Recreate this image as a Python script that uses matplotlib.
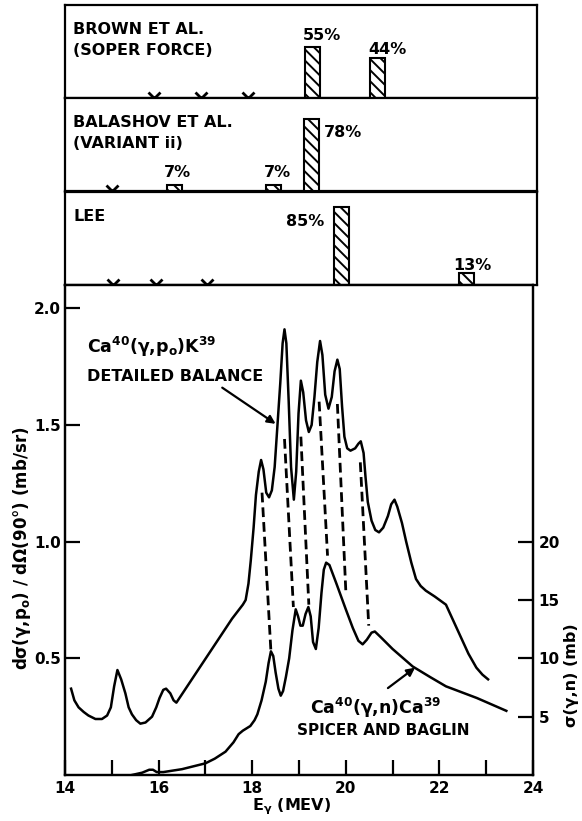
import matplotlib
matplotlib.use('Agg')
import matplotlib.pyplot as plt

plt.rcParams['font.family'] = ['DejaVu Sans']
plt.rcParams['font.weight'] = 'bold'
plt.rcParams['mathtext.default'] = 'bf'
plt.rcParams['hatch.linewidth'] = 1.4

# ---- top panels: calculated strengths (percent) and crosses ----
panel_names = [["BROWN ET AL.", "(SOPER FORCE)"],
               ["BALASHOV ET AL.", "(VARIANT ii)"],
               ["LEE"]]
cross_E = [[15.9, 16.9, 17.9],
           [15.0],
           [15.03, 15.94, 17.03]]
bar_E = [[19.29, 20.68],
         [16.34, 18.46, 19.27],
         [19.90, 22.58]]
bar_pct = [[55, 44],
           [7, 7, 78],
           [85, 13]]
pct_label_E = [[19.49, 20.88],
               [16.41, 18.53, 19.94],
               [19.13, 22.70]]
pct_label_y = [[68, 53],
               [20.6, 20.6, 64],
               [69.5, 21.7]]

# ---- Ca40(g,p0)K39 detailed balance (mb/sr) ----
p_E = [14.13, 14.2, 14.29, 14.4, 14.5, 14.65, 14.79, 14.9, 14.98, 15.05, 15.12, 15.2,
       15.29, 15.36, 15.43, 15.52, 15.61, 15.72, 15.86, 15.95, 16.02, 16.1, 16.16, 16.25,
       16.32, 16.38, 17.57, 17.8, 17.86, 17.92, 17.97, 18.03, 18.08, 18.14, 18.19, 18.24,
       18.3, 18.36, 18.42, 18.48, 18.54, 18.6, 18.65, 18.69, 18.73, 18.78, 18.83, 18.89,
       18.94, 18.99, 19.04, 19.09, 19.15, 19.21, 19.27, 19.33, 19.39, 19.45, 19.5, 19.56,
       19.63, 19.7, 19.76, 19.82, 19.87, 19.92, 19.97, 20.03, 20.1, 20.2, 20.27, 20.32,
       20.38, 20.42, 20.47, 20.55, 20.63, 20.71, 20.8, 20.9, 20.97, 21.04, 21.1, 21.2,
       21.29, 21.4, 21.5, 21.6, 21.71, 21.9, 22.14, 22.3, 22.46, 22.62, 22.79, 22.92, 23.04]
p_val = [0.37, 0.32, 0.29, 0.27, 0.255, 0.24, 0.24, 0.255, 0.29, 0.38, 0.45, 0.41,
         0.35, 0.29, 0.26, 0.235, 0.22, 0.225, 0.25, 0.29, 0.33, 0.365, 0.37, 0.35,
         0.32, 0.31, 0.67, 0.73, 0.75, 0.82, 0.92, 1.06, 1.2, 1.3, 1.35, 1.31,
         1.21, 1.19, 1.22, 1.32, 1.50, 1.68, 1.85, 1.91, 1.85, 1.6, 1.32, 1.18,
         1.3, 1.55, 1.69, 1.64, 1.52, 1.47, 1.5, 1.62, 1.77, 1.86, 1.80, 1.63,
         1.57, 1.62, 1.73, 1.78, 1.74, 1.58, 1.45, 1.40, 1.39, 1.40, 1.42, 1.43,
         1.38, 1.28, 1.17, 1.09, 1.05, 1.04, 1.06, 1.11, 1.16, 1.18, 1.15, 1.08,
         1.00, 0.91, 0.84, 0.81, 0.79, 0.765, 0.73, 0.66, 0.59, 0.52, 0.46, 0.43, 0.41]

# ---- Ca40(g,n)Ca39 Spicer and Baglin (mb) ----
n_E = [15.43, 15.65, 15.8, 15.88, 15.96, 16.1, 16.5, 17.0, 17.2, 17.43, 17.6, 17.71,
       17.8, 17.96, 18.05, 18.11, 18.2, 18.29, 18.35, 18.4, 18.45, 18.5, 18.56, 18.61,
       18.66, 18.72, 18.79, 18.86, 18.93, 18.98, 19.03, 19.08, 19.14, 19.2, 19.25, 19.3,
       19.36, 19.42, 19.48, 19.53, 19.58, 19.65, 19.8, 20.0, 20.15, 20.27, 20.36, 20.45,
       20.55, 20.62, 20.75, 21.0, 21.43, 21.8, 22.14, 22.8, 23.43]
n_mb = [0, 0.2, 0.45, 0.45, 0.25, 0.25, 0.5, 1.0, 1.4, 2.0, 2.8, 3.5,
        3.8, 4.2, 4.7, 5.2, 6.4, 8.0, 9.6, 10.6, 10.2, 8.8, 7.4, 6.8,
        7.2, 8.4, 10.0, 12.4, 14.2, 13.6, 12.8, 12.8, 13.8, 14.4, 13.6, 11.4,
        10.8, 12.6, 15.6, 17.6, 18.2, 18.0, 16.4, 14.2, 12.6, 11.5, 11.2, 11.6,
        12.2, 12.3, 11.8, 10.8, 9.3, 8.4, 7.6, 6.6, 5.5]

# dashed correspondence lines (mb/sr units)
dash_E0 = [18.21, 18.69, 19.04, 19.43, 19.82, 20.31]
dash_v0 = [1.21, 1.44, 1.45, 1.60, 1.59, 1.34]
dash_E1 = [18.40, 18.88, 19.21, 19.61, 20.00, 20.49]
dash_v1 = [0.53, 0.72, 0.73, 0.94, 0.79, 0.64]

W, H = 582, 821
fig = plt.figure(figsize=(W / 100, H / 100), dpi=100)

px_per_mev = 468 / 10.0
panel_tops = [5, 98, 192]
panel_h = 93.3
for i, top in enumerate(panel_tops):
    axp = fig.add_axes([65 / W, (H - top - panel_h) / H, 472 / W, panel_h / H])
    axp.set_xlim(14, 14 + 472 / px_per_mev)
    axp.set_ylim(0, 101)
    axp.set_xticks([])
    axp.set_yticks([])
    for s in axp.spines.values():
        s.set_linewidth(1.6)
    axp.bar(bar_E[i], bar_pct[i], width=0.32, facecolor='white', edgecolor='black',
            linewidth=1.5, hatch='\\\\\\', zorder=3)
    axp.plot(cross_E[i], [0] * len(cross_E[i]), 'x', color='black', ms=9, mew=2,
             clip_on=False, zorder=5)
    for e, y, p in zip(pct_label_E[i], pct_label_y[i], bar_pct[i]):
        axp.text(e, y, f"{p}%", ha='center', va='center', fontsize=11.5, fontweight='bold')
    for j, name in enumerate(panel_names[i]):
        axp.text(0.018, 0.74 - 0.225 * j, name, transform=axp.transAxes, ha='left',
                 va='center', fontsize=11.5, fontweight='bold')

ax = fig.add_axes([65 / W, (H - 775) / H, 468 / W, 490 / H])
ax.set_xlim(14, 24)
ax.set_ylim(0, 2.1)
for s in ax.spines.values():
    s.set_linewidth(1.6)

ax.plot(p_E, p_val, color='black', lw=1.8)
for e0, v0, e1, v1 in zip(dash_E0, dash_v0, dash_E1, dash_v1):
    ax.plot([e0, e1], [v0, v1], color='black', lw=2, linestyle=(0, (3.5, 1.8)))

ax2 = ax.twinx()
ax2.set_ylim(0, 42)
ax2.plot(n_E, n_mb, color='black', lw=1.8)
for s in ax2.spines.values():
    s.set_linewidth(1.6)

ax.set_xticks([14, 16, 18, 20, 22, 24])
ax.set_xticks([15, 17, 19, 21, 23], minor=True)
ax.set_yticks([0.5, 1.0, 1.5, 2.0])
ax.set_yticklabels(['0.5', '1.0', '1.5', '2.0'])
ax.tick_params(which='both', direction='in', length=11, width=1.6, labelsize=11, pad=4)
ax.tick_params(axis='y', pad=3)
ax2.set_yticks([5, 10, 15, 20])
ax2.tick_params(direction='in', length=11, width=1.6, labelsize=11, pad=4)
for lab in ax.get_xticklabels() + ax.get_yticklabels() + ax2.get_yticklabels():
    lab.set_fontweight('bold')

ax.text(0.485, -0.065, "E$_\\gamma$ (MEV)", transform=ax.transAxes, ha='center',
        va='center', fontsize=11.5, fontweight='bold')
ax.text(-0.092, 0.463, "d\u03c3(\u03b3,p$_o$) / d\u03a9(90\u00b0) (mb/sr)",
        transform=ax.transAxes, rotation=90, ha='center', va='center', fontsize=12,
        fontweight='bold')
ax.text(1.083, 0.204, "\u03c3(\u03b3,n) (mb)", transform=ax.transAxes, rotation=90,
        ha='center', va='center', fontsize=11.5, fontweight='bold')

ax.text(14.46, 1.81, "Ca$^{40}$(\u03b3,p$_o$)K$^{39}$", ha='left', va='baseline',
        fontsize=12.5, fontweight='bold')
ax.text(14.46, 1.69, "DETAILED BALANCE", ha='left', va='baseline', fontsize=11.5,
        fontweight='bold')
ax.annotate("", xy=(18.5, 1.505), xytext=(17.36, 1.66),
            arrowprops=dict(arrowstyle='-|>', color='black', lw=1.6,
                            mutation_scale=12, shrinkA=0, shrinkB=0))

ax2.text(20.65, 5.2, "Ca$^{40}$(\u03b3,n)Ca$^{39}$", ha='center', va='baseline',
         fontsize=12.5, fontweight='bold')
ax2.text(20.8, 3.4, "SPICER AND BAGLIN", ha='center', va='baseline', fontsize=11,
         fontweight='bold')
ax2.annotate("", xy=(21.48, 9.2), xytext=(20.9, 7.45),
             arrowprops=dict(arrowstyle='-|>', color='black', lw=1.6,
                             mutation_scale=12, shrinkA=0, shrinkB=0))

fig.savefig('out.png', dpi=100)
